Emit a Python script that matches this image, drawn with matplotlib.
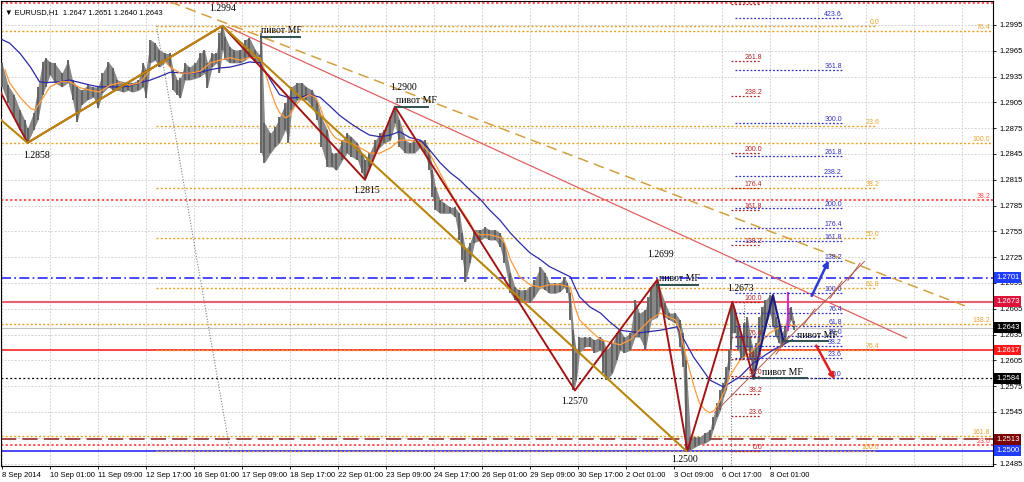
import numpy as np
import matplotlib.pyplot as plt
from matplotlib.transforms import blended_transform_factory

plt.rcParams['font.family'] = ['Liberation Sans', 'DejaVu Sans']

# ---------- price data (H1 bars, sampled) ----------
bar = [0, 4, 8, 12, 15, 17, 21, 24, 27, 29, 32, 35, 40, 44, 47, 50, 53, 57, 61, 64,
       67, 71, 74, 77, 81, 84, 87, 91, 94, 96, 99, 102, 105, 109, 112, 114, 117, 119, 122, 125,
       129, 132, 135, 137, 140, 143, 145, 147, 149, 152, 155, 159, 162, 165, 169, 172, 173, 175, 179, 182,
       185, 189, 191, 193, 197, 200, 203, 207, 210, 213, 217, 220, 223, 227, 230, 233, 237, 240, 242, 245,
       249, 252, 255, 259, 262, 265, 269, 272, 275, 279, 282, 285, 287, 289, 292, 295, 299, 302, 305, 307,
       309, 312, 315, 319, 322, 325, 329, 332, 335, 339, 342, 345, 349, 352, 355, 359, 362, 365, 369, 372,
       375, 377, 379, 381, 383, 385, 389, 392, 395, 399, 401, 403, 407, 410, 412, 415, 419, 422, 425, 429,
       431, 433, 437, 439, 442, 445, 449, 452, 454, 456, 459, 462, 465, 469, 472, 474, 477, 479, 481, 483,
       485, 486, 487, 489, 491, 493, 495, 497, 499, 501, 503, 505, 507, 509, 512, 514, 516, 518, 520, 522,
       524, 526, 528]
high = [1.2951, 1.2925, 1.2914, 1.2896, 1.2885, 1.2875, 1.2893, 1.2923, 1.2952, 1.2957,
        1.2952, 1.2951, 1.2939, 1.2954, 1.2931, 1.2923, 1.2919, 1.2925, 1.2923, 1.2923,
        1.2939, 1.2952, 1.2945, 1.2931, 1.2929, 1.2929, 1.2928, 1.2931, 1.2951, 1.2943,
        1.2978, 1.2974, 1.2966, 1.2962, 1.2962, 1.2943, 1.2931, 1.2933, 1.2951, 1.2946,
        1.2951, 1.2962, 1.2966, 1.2951, 1.2962, 1.2962, 1.2986, 1.2994, 1.2981, 1.2969,
        1.2966, 1.2966, 1.2978, 1.2980, 1.2966, 1.2960, 1.2986, 1.2881, 1.2869, 1.2876,
        1.2888, 1.2904, 1.2911, 1.2923, 1.2928, 1.2928, 1.2923, 1.2919, 1.2908, 1.2888,
        1.2873, 1.2846, 1.2846, 1.2861, 1.2869, 1.2865, 1.2858, 1.2846, 1.2838, 1.2846,
        1.2861, 1.2869, 1.2873, 1.2888, 1.2900, 1.2885, 1.2861, 1.2858, 1.2861, 1.2861,
        1.2861, 1.2850, 1.2826, 1.2807, 1.2792, 1.2788, 1.2783, 1.2783, 1.2776, 1.2753,
        1.2733, 1.2742, 1.2757, 1.2757, 1.2760, 1.2757, 1.2757, 1.2753, 1.2742, 1.2707,
        1.2690, 1.2687, 1.2687, 1.2690, 1.2698, 1.2714, 1.2707, 1.2695, 1.2695, 1.2695,
        1.2702, 1.2695, 1.2683, 1.2640, 1.2614, 1.2632, 1.2632, 1.2632, 1.2629, 1.2632,
        1.2629, 1.2617, 1.2625, 1.2637, 1.2640, 1.2632, 1.2637, 1.2675, 1.2660, 1.2664,
        1.2679, 1.2690, 1.2699, 1.2687, 1.2672, 1.2660, 1.2660, 1.2652, 1.2637, 1.2605,
        1.2516, 1.2516, 1.2516, 1.2521, 1.2524, 1.2539, 1.2555, 1.2571, 1.2579, 1.2597,
        1.2617, 1.2667, 1.2673, 1.2664, 1.2644, 1.2632, 1.2648, 1.2655, 1.2632, 1.2617,
        1.2625, 1.2655, 1.2667, 1.2675, 1.2681, 1.2679, 1.2655, 1.2644, 1.2637, 1.2644,
        1.2666, 1.2667, 1.2651]
low = [1.2923, 1.2904, 1.2887, 1.2873, 1.2864, 1.2858, 1.2873, 1.2885, 1.2914, 1.2923,
       1.2937, 1.2928, 1.2923, 1.2928, 1.2908, 1.2882, 1.2902, 1.2908, 1.2911, 1.2898,
       1.2916, 1.2923, 1.2919, 1.2919, 1.2917, 1.2919, 1.2917, 1.2919, 1.2923, 1.2910,
       1.2951, 1.2954, 1.2946, 1.2952, 1.2946, 1.2919, 1.2914, 1.2910, 1.2931, 1.2931,
       1.2933, 1.2935, 1.2939, 1.2922, 1.2946, 1.2951, 1.2939, 1.2966, 1.2954, 1.2951,
       1.2951, 1.2951, 1.2954, 1.2958, 1.2951, 1.2951, 1.2846, 1.2835, 1.2846, 1.2853,
       1.2858, 1.2873, 1.2858, 1.2896, 1.2908, 1.2908, 1.2908, 1.2900, 1.2885, 1.2853,
       1.2830, 1.2830, 1.2826, 1.2838, 1.2846, 1.2842, 1.2838, 1.2823, 1.2815, 1.2830,
       1.2846, 1.2853, 1.2858, 1.2861, 1.2881, 1.2853, 1.2846, 1.2846, 1.2846, 1.2853,
       1.2846, 1.2826, 1.2795, 1.2780, 1.2776, 1.2776, 1.2776, 1.2772, 1.2745, 1.2722,
       1.2696, 1.2718, 1.2742, 1.2745, 1.2748, 1.2745, 1.2745, 1.2737, 1.2718, 1.2683,
       1.2675, 1.2672, 1.2675, 1.2672, 1.2679, 1.2690, 1.2687, 1.2683, 1.2683, 1.2685,
       1.2690, 1.2683, 1.2652, 1.2570, 1.2582, 1.2614, 1.2621, 1.2621, 1.2614, 1.2617,
       1.2590, 1.2582, 1.2590, 1.2605, 1.2617, 1.2614, 1.2617, 1.2632, 1.2632, 1.2617,
       1.2637, 1.2652, 1.2655, 1.2667, 1.2655, 1.2652, 1.2648, 1.2621, 1.2597, 1.2500,
       1.2501, 1.2504, 1.2507, 1.2509, 1.2512, 1.2524, 1.2539, 1.2547, 1.2562, 1.2571,
       1.2594, 1.2617, 1.2637, 1.2637, 1.2617, 1.2605, 1.2609, 1.2621, 1.2605, 1.2584,
       1.2602, 1.2614, 1.2632, 1.2644, 1.2660, 1.2644, 1.2632, 1.2625, 1.2621, 1.2625,
       1.2644, 1.2652, 1.2640]

# moving averages
ma_fast_bar = [2, 5, 12, 19, 22, 25, 32, 39, 45, 52, 59, 65, 72, 79, 85, 92, 99, 105, 109, 112,
               119, 125, 132, 139, 145, 152, 159, 165, 172, 175, 179, 182, 185, 189, 192, 195, 199, 205, 209, 212,
               215, 219, 222, 225, 232, 239, 245, 252, 259, 265, 272, 279, 285, 292, 299, 305, 312, 315, 319, 325,
               332, 335, 339, 345, 352, 359, 365, 372, 379, 382, 385, 392, 399, 412, 419, 425, 432, 439, 445, 449,
               452, 455, 459, 462, 465, 469, 472, 475, 479, 482, 485, 489, 492, 499, 505, 512, 519, 529]
ma_fast = [1.2943, 1.2928, 1.2911, 1.2898, 1.2896, 1.2904, 1.2923, 1.2929, 1.2929, 1.2922,
           1.2919, 1.2917, 1.2925, 1.2928, 1.2925, 1.2928, 1.2943, 1.2951, 1.2952, 1.2946,
           1.2939, 1.2939, 1.2941, 1.2951, 1.2954, 1.2957, 1.2954, 1.2957, 1.2957, 1.2943,
           1.2919, 1.2904, 1.2893, 1.2887, 1.2890, 1.2900, 1.2908, 1.2914, 1.2911, 1.2900,
           1.2885, 1.2871, 1.2864, 1.2861, 1.2858, 1.2852, 1.2846, 1.2846, 1.2852, 1.2861,
           1.2861, 1.2858, 1.2846, 1.2823, 1.2800, 1.2783, 1.2765, 1.2754, 1.2751, 1.2751,
           1.2748, 1.2742, 1.2722, 1.2702, 1.2693, 1.2690, 1.2693, 1.2693, 1.2690, 1.2667,
           1.2652, 1.2640, 1.2629, 1.2623, 1.2629, 1.2640, 1.2652, 1.2660, 1.2655, 1.2652,
           1.2640, 1.2617, 1.2590, 1.2571, 1.2555, 1.2547, 1.2544, 1.2547, 1.2559, 1.2571,
           1.2586, 1.2597, 1.2605, 1.2614, 1.2625, 1.2637, 1.2644, 1.2646]
ma_slow_bar = [0, 5, 12, 19, 25, 29, 39, 45, 52, 59, 65, 79, 85, 92, 99, 105, 112, 125, 132, 139,
               145, 152, 159, 165, 172, 179, 185, 192, 199, 205, 212, 219, 225, 232, 239, 245, 252, 259, 265, 272,
               279, 285, 292, 299, 305, 312, 319, 325, 332, 339, 345, 352, 359, 365, 372, 379, 382, 385, 392, 399,
               405, 412, 425, 439, 450, 461, 472, 481, 492, 501, 514, 527]
ma_slow = [1.2978, 1.2974, 1.2962, 1.2946, 1.2929, 1.2928, 1.2929, 1.2931, 1.2928, 1.2925,
           1.2923, 1.2923, 1.2924, 1.2928, 1.2931, 1.2935, 1.2940, 1.2939, 1.2940, 1.2943,
           1.2945, 1.2946, 1.2949, 1.2952, 1.2951, 1.2931, 1.2914, 1.2910, 1.2911, 1.2914,
           1.2911, 1.2900, 1.2890, 1.2881, 1.2873, 1.2867, 1.2865, 1.2867, 1.2871, 1.2864,
           1.2861, 1.2850, 1.2835, 1.2823, 1.2815, 1.2803, 1.2792, 1.2780, 1.2768, 1.2753,
           1.2742, 1.2730, 1.2722, 1.2714, 1.2708, 1.2702, 1.2690, 1.2679, 1.2667, 1.2660,
           1.2650, 1.2640, 1.2637, 1.2640, 1.2644, 1.2609, 1.2582, 1.2574, 1.2586, 1.2602,
           1.2617, 1.2629]

# zigzags (bar, price)
gold_zz_bar = [-1, 17, 147, 456]
gold_zz = [1.2885, 1.2858, 1.2994, 1.2500]
red_zz_bar = [-1, 17, 147, 242, 262, 382, 437, 457, 487, 501]
red_zz = [1.2917, 1.2858, 1.2994, 1.2815, 1.2900, 1.2570, 1.2699, 1.2500, 1.2673, 1.2584]
navy_zz_bar = [501, 514, 521]
navy_zz = [1.2584, 1.2681, 1.2627]

# swing labels
swing_text = ['1.2994', '1.2858', '1.2900', '1.2815', '1.2699', '1.2673', '1.2570', '1.2500']
swing_bar = [147, 23, 268, 243, 439, 492, 382, 455]
swing_price = [1.3014, 1.2843, 1.2922, 1.2802, 1.2728, 1.2689, 1.2557, 1.2490]

# "pivot MF" marks: start bar, end bar, price, text start bar
piv_start = [173, 263, 437, 501, 521]
piv_end = [199, 284, 464, 537, 551]
piv_price = [1.2981, 1.2900, 1.2693, 1.2584, 1.2627]
piv_text_bar = [173, 263, 438, 507, 530]

# price tags on the right
tag_price = [1.2701, 1.2673, 1.2643, 1.2617, 1.2584, 1.2513, 1.2500]
tag_color = ['#1f3cff', '#dc143c', '#000000', '#ff1a1a', '#000000', '#7a0000', '#1f3cff']

# fibonacci sets (price at 0 %, price at 100 %)
fib_levels_a = [0.0, 23.6, 38.2, 50.0, 61.8, 76.4, 100.0]
fib_a = (1.2994, 1.2500)
fib_levels_b = [76.4, 100.0, 138.2, 161.8]
fib_b = (1.3410, 1.2858)
fib_levels_c = [23.6, 38.2, 50.0]
fib_c = (1.20479, 1.39931)
fib_levels_d = [0.0, 23.6, 38.2, 50.0, 61.8, 76.4, 100.0, 138.2, 161.8, 176.4, 200.0, 238.2, 261.8, 300.0]
fib_d = (1.2500, 1.2673)
fib_levels_e = [0.0, 23.6, 38.2, 50.0, 61.8, 76.4, 100.0, 138.2, 161.8, 176.4, 200.0, 238.2,
                261.8, 300.0, 361.8, 423.6]
fib_e = (1.2584, 1.2683)

date_labels = ['8 Sep 2014', '10 Sep 01:00', '11 Sep 09:00', '12 Sep 17:00', '16 Sep 01:00',
               '17 Sep 09:00', '18 Sep 17:00', '22 Sep 01:00', '23 Sep 09:00', '24 Sep 17:00',
               '26 Sep 01:00', '29 Sep 09:00', '30 Sep 17:00', '2 Oct 01:00', '3 Oct 09:00',
               '6 Oct 17:00', '8 Oct 01:00']

# ---------- figure ----------
W, H = 1024, 482
fig = plt.figure(figsize=(W / 100, H / 100), dpi=100)
ax = fig.add_axes([1 / W, 16 / H, 992 / W, 465 / H])
YTOP = 1.30229
ax.set_xlim(-0.67, 660.7)
ax.set_ylim(1.24821, YTOP)

yt = [1.2485 + 0.003 * k for k in range(18)]
xt = [32 * k for k in range(len(date_labels))]
ax.yaxis.tick_right()
ax.set_yticks(yt)
# the 1.2515 label sits under the 1.2513 tag
ax.set_yticklabels(['' if abs(v - 1.2515) < 1e-6 else '%.4f' % v for v in yt], fontsize=5.5)
ax.set_xticks(xt)
ax.set_xticklabels(date_labels, fontsize=5.5)
for lab in ax.get_xticklabels():
    lab.set_ha('left')
ax.tick_params(axis='both', length=2.5, width=0.6, pad=1.5)
ax.tick_params(axis='y', pad=2)
for s in ax.spines.values():
    s.set_linewidth(0.8)

grid_kw = dict(color='#c8c8c8', lw=0.6, ls=(0, (2, 2)), zorder=0)
for v in yt:
    ax.axhline(v, **grid_kw)
for k in range(21):
    ax.axvline(32 * k, **grid_kw)

fib_col = '#e8a22a'
dot = (0, (1.5, 1.5))


def fib(p, lvl):
    return p[0] + (p[1] - p[0]) * lvl / 100.0


def fib_label(x, y, lv, col):
    # labels above the top edge are cut off in the original, leave them out
    if y < YTOP - 0.0006:
        ax.text(x, y, '%.1f' % lv, color=col, fontsize=5, ha='right', va='bottom', zorder=6)


# long fib sets
for lv in fib_levels_b:
    y = fib(fib_b, lv)
    ax.axhline(y, color=fib_col, lw=1, ls=dot, zorder=1)
    fib_label(659, y, lv, fib_col)
for lv in fib_levels_c:
    y = fib(fib_c, lv)
    ax.axhline(y, color='#ff2a2a', lw=1.1, ls=dot, zorder=1)
    fib_label(659, y, lv, '#ff4040')

# horizontal levels
ax.axhline(1.2643, color='#c0c0c0', lw=0.8, zorder=1)
ax.axhline(1.2701, color='#2a2aff', lw=1.2, ls=(0, (6, 2, 1, 2)), zorder=2)
ax.axhline(1.2673, color='#e8606e', lw=1.5, zorder=2)
ax.axhline(1.2617, color='#ff2020', lw=1.2, zorder=2)
ax.axhline(1.2584, color='#000000', lw=0.9, ls=(0, (1.5, 2)), zorder=2)
ax.axhline(1.2513, color='#8b1a1a', lw=1.1, ls=(0, (10, 4)), zorder=2)
ax.axhline(1.2500, color='#2a2aff', lw=1.2, zorder=2)

for lv in fib_levels_a:
    y = fib(fib_a, lv)
    ax.plot([103, 583], [y, y], color=fib_col, lw=1, ls=dot, zorder=2.5)
    fib_label(585, y, lv, fib_col)
ax.plot([103, 152], [1.2994, 1.2500], color='#808080', lw=0.8, ls=(0, (1, 1.5)), zorder=1)

# diagonal lines
ax.plot([112, 644], [1.3022, 1.2667], color='#d4a040', lw=1.1, ls=(0, (7, 4)), zorder=2)
ax.plot([150, 603], [1.2993, 1.2631], color='#e06060', lw=0.9, zorder=2)

# price bars
ax.fill_between(bar, low, high, color='#888888', lw=0, zorder=3)
ax.vlines(bar, low, high, color='#5e5e5e', lw=1.3, zorder=3)

# moving averages
ax.plot(ma_slow_bar, ma_slow, color='#2b2ba8', lw=0.9, zorder=4)
ax.plot(ma_fast_bar, ma_fast, color='#ff9a3c', lw=0.9, zorder=4)

# zigzags
ax.plot(red_zz_bar, red_zz, color='#a31515', lw=1.4, zorder=5)
ax.plot(gold_zz_bar, gold_zz, color='#b8860b', lw=1.5, zorder=5)
ax.plot(navy_zz_bar, navy_zz, color='#1a1a80', lw=1.5, zorder=5)
ax.plot([524, 524], [1.2640, 1.2683], color='#e020e0', lw=1.4, zorder=5)

# short fib sets
for lv in fib_levels_d:
    y = fib(fib_d, lv)
    ax.plot([486, 506], [y, y], color='#b22222', lw=0.9, ls=dot, zorder=6)
    fib_label(507, y, lv, '#b22222')
ax.plot([486, 486], [1.2482, 1.2640], color='#808080', lw=0.8, ls=(0, (1, 1.5)), zorder=1)
ax.plot([495, 495], [1.2673, 1.2630], color='#808080', lw=0.8, ls=(0, (1, 1.5)), zorder=1)
for lv in fib_levels_e:
    y = fib(fib_e, lv)
    ax.plot([489, 560], [y, y], color='#3030c0', lw=0.9, ls=dot, zorder=6)
    fib_label(560, y, lv, '#3030c0')

# thin channel with cross ticks
ax.plot([475, 575], [1.2544, 1.2720], color='#b05a4a', lw=0.7, zorder=6)
for cb, cp in [(520, 1.2622), (538, 1.2655), (556, 1.2687), (568, 1.2708)]:
    ax.plot([cb - 4, cb + 4], [cp - 0.0010, cp + 0.0010], color='#b05a4a', lw=0.7, zorder=6)

# arrows
ax.annotate('', xy=(552, 1.2724), xytext=(539, 1.2677),
            arrowprops=dict(arrowstyle='-|>', color='#2a3ad8', lw=1.8, mutation_scale=8), zorder=7)
ax.annotate('', xy=(556, 1.2580), xytext=(542, 1.2625),
            arrowprops=dict(arrowstyle='-|>', color='#e02020', lw=1.8, mutation_scale=8), zorder=7)

# pivot marks
for s, e, p, tb in zip(piv_start, piv_end, piv_price, piv_text_bar):
    ax.plot([s, e], [p, p], color='#2f4f4f', lw=1.4, zorder=7)
    ax.text(tb, p + 0.0002, 'пивот MF', family=['Liberation Serif', 'DejaVu Serif'],
            fontsize=7, ha='left', va='bottom', zorder=7)

for t, b, p in zip(swing_text, swing_bar, swing_price):
    ax.text(b, p, t, family=['Liberation Serif', 'DejaVu Serif'], fontsize=7,
            ha='center', va='center', zorder=7)

# price tags on the right
tr = blended_transform_factory(ax.transAxes, ax.transData)
for p, c in zip(tag_price, tag_color):
    ax.text(1.003, p, '%.4f' % p, transform=tr, color='white', fontsize=5.5,
            ha='left', va='center', clip_on=False, zorder=10,
            bbox=dict(boxstyle='square,pad=0.25', fc=c, ec='none'))

ax.text(0.004, 0.982, '\u25bc EURUSD,H1  1.2647 1.2651 1.2640 1.2643', transform=ax.transAxes,
        fontsize=5.5, ha='left', va='top', zorder=10)

fig.savefig('out.png', dpi=100)
